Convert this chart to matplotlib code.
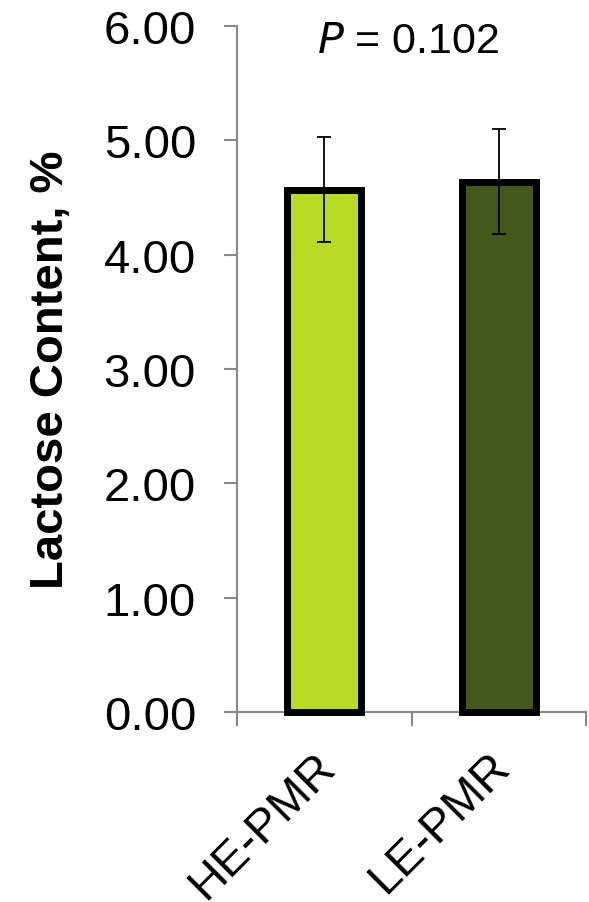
import matplotlib
matplotlib.use("Agg")
import matplotlib.pyplot as plt
from matplotlib.ticker import FixedLocator, NullFormatter, FormatStrFormatter
from matplotlib.transforms import ScaledTranslation

plt.rcParams["font.family"] = ["Liberation Sans", "DejaVu Sans"]

# Lactose content by group (mean ± SD)
groups = ["HE-PMR", "LE-PMR"]
lactose = [4.57, 4.64]
lactose_err = [0.46, 0.46]
bar_colors = ["#B8DA23", "#45581C"]
p_value = 0.102

fig = plt.figure(figsize=(5.89, 9.03), dpi=100)
ax = fig.add_axes([0.4024, 0.2104, 0.5926, 0.7596])

x = list(range(len(groups)))
ax.bar(x, lactose, width=0.425, color=bar_colors, edgecolor="black",
       linewidth=5, zorder=3, clip_on=False)
ax.errorbar(x, lactose, yerr=lactose_err, fmt="none", ecolor="black",
            elinewidth=1.3, capsize=5, capthick=1.3, zorder=4)

ax.set_xlim(-0.5, 1.5)
ax.set_ylim(0, 6)

# y axis: ticks every 1.00 with two decimals
ax.yaxis.set_major_locator(FixedLocator([0, 1, 2, 3, 4, 5, 6]))
ax.yaxis.set_major_formatter(FormatStrFormatter("%.2f"))
ax.tick_params(axis="y", which="major", direction="out", length=9.5,
               width=1.5, color="#898989", labelsize=34, pad=20)

# x axis: tick marks between categories, labels at bar centres
ax.xaxis.set_major_locator(FixedLocator([-0.5, 0.5, 1.5]))
ax.xaxis.set_major_formatter(NullFormatter())
ax.xaxis.set_minor_locator(FixedLocator(x))
ax.set_xticklabels(groups, minor=True, rotation=45, ha="right", va="top",
                   rotation_mode="anchor", fontsize=34)
ax.tick_params(axis="x", which="major", direction="out", length=10,
               width=1.5, color="#898989")
ax.tick_params(axis="x", which="minor", length=0, pad=26)

# nudge the slanted category labels up and to the left
shift = ScaledTranslation(-0.11, 0.04, fig.dpi_scale_trans)
for lbl in ax.get_xticklabels(minor=True):
    lbl.set_transform(lbl.get_transform() + shift)

for side in ["top", "right"]:
    ax.spines[side].set_visible(False)
for side in ["left", "bottom"]:
    ax.spines[side].set_color("#898989")
    ax.spines[side].set_linewidth(1.5)

ax.set_ylabel("Lactose Content, %", fontsize=34, fontweight="bold")
ax.yaxis.set_label_coords(-0.47, 0.5)

ax.text(0.48, 5.77, f"$\\it{{P}}$ = {p_value}", ha="center", va="baseline",
        fontsize=31)

fig.savefig("out.png", dpi=100)
